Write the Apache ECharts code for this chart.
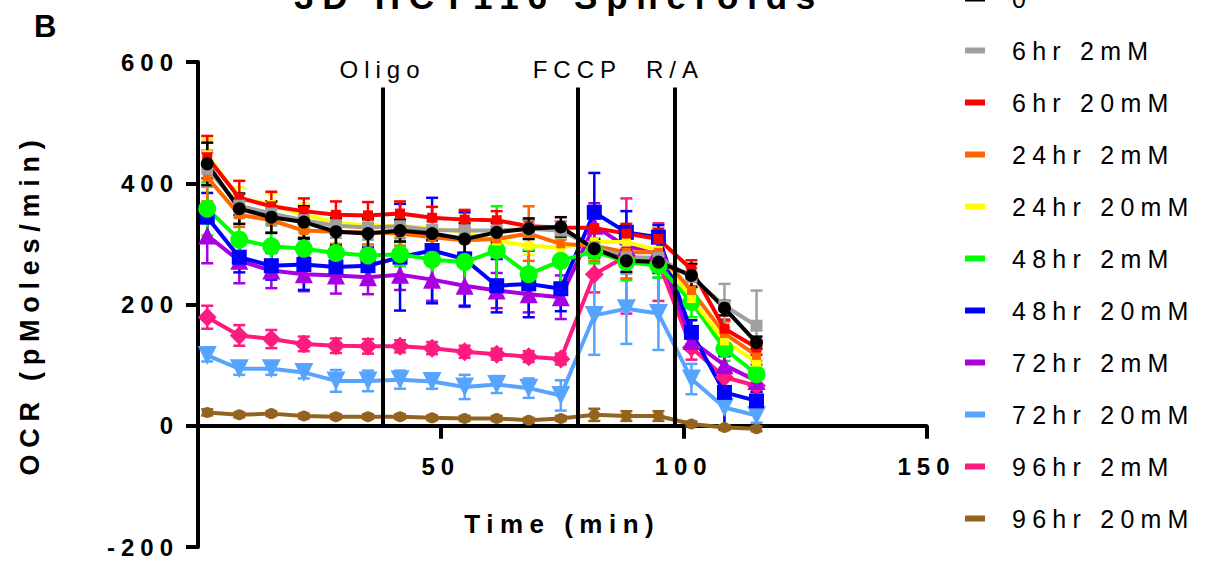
<!DOCTYPE html>
<html>
<head>
<meta charset="utf-8">
<script src="https://cdn.jsdelivr.net/npm/echarts@6/dist/echarts.min.js"></script>
<style>
  html, body { margin: 0; padding: 0; background: #fff; }
  #chart { width: 1222px; height: 564px; }
  /* Prism-style spaced lettering for every label */
  #chart text { letter-spacing: 0.25em; }
</style>
</head>
<body>
<div id="chart"></div>
<script>
// Measurement times (min)
const times = [1.9, 8.5, 15.1, 21.8, 28.4, 35.0, 41.6, 48.2, 54.9, 61.5, 68.1, 74.7, 81.6, 88.2, 94.8, 101.6, 108.4, 115.0];

// Injection times (min) and labels
const injectionNames = ['Oligo', 'FCCP', 'R/A'];
const injectionTimes = [38.0, 78.1, 98.2];
const injectionTop = 558;

// Treatment groups
const groupNames = ['0', '6hr 2mM', '6hr 20mM', '24hr 2mM', '24hr 20mM', '48hr 2mM', '48hr 20mM', '72hr 2mM', '72hr 20mM', '96hr 2mM', '96hr 20mM'];

// OCR means (pMoles/min)
const ocr0      = [432, 358, 344, 336, 320, 317, 322, 317, 308, 319, 325, 328, 292, 272, 270, 248, 194, 137];
const ocr6h2    = [424, 363, 350, 339, 330, 327, 329, 323, 322, 322, 325, 322, 294, 278, 277, 245, 198, 165];
const ocr6h20   = [443, 376, 362, 354, 348, 347, 350, 343, 340, 339, 329, 327, 326, 317, 308, 258, 160, 129];
const ocr24h2   = [410, 348, 339, 322, 320, 319, 317, 311, 306, 308, 317, 300, 297, 286, 286, 223, 152, 116];
const ocr24h20  = [447, 375, 365, 348, 335, 330, 330, 325, 320, 305, 297, 294, 303, 303, 289, 210, 140, 105];
const ocr48h2   = [358, 307, 296, 292, 285, 281, 283, 274, 270, 289, 250, 272, 288, 270, 264, 204, 127, 85];
const ocr48h20  = [344, 278, 264, 266, 262, 264, 278, 289, 275, 231, 234, 226, 352, 319, 311, 154, 55, 41];
const ocr72h2   = [314, 272, 256, 250, 248, 245, 249, 241, 231, 223, 217, 212, 330, 295, 290, 140, 100, 74];
const ocr72h20  = [116, 94, 94, 88, 74, 74, 76, 73, 64, 68, 62, 50, 182, 193, 185, 77, 30, 17];
const ocr96h2   = [179, 149, 143, 135, 132, 131, 131, 128, 122, 118, 114, 110, 250, 280, 270, 129, 80, 66];
const ocr96h20  = [22, 18, 20, 16, 15, 15, 15, 13, 12, 12, 9, 12, 18, 16, 16, 3, -3, -5];

// Error bar half-widths (pMoles/min)
const err0      = [35, 25, 26, 26, 23, 25, 18, 11, 26, 16, 17, 16, 15, 18, 18, 19, 12, 10];
const err6h2    = [30, 20, 20, 20, 20, 20, 20, 15, 20, 15, 15, 15, 15, 15, 15, 15, 36, 58];
const err6h20   = [35, 28, 24, 21, 22, 22, 20, 18, 16, 15, 10, 10, 35, 16, 17, 15, 15, 12];
const err24h2   = [40, 20, 20, 20, 20, 20, 20, 20, 20, 20, 45, 20, 25, 43, 20, 20, 20, 15];
const err24h20  = [25, 18, 18, 18, 18, 18, 18, 15, 15, 15, 15, 15, 15, 15, 15, 15, 15, 12];
const err48h2   = [44, 39, 37, 35, 30, 35, 20, 38, 40, 73, 40, 50, 20, 30, 20, 25, 20, 15];
const err48h20  = [40, 25, 23, 42, 25, 30, 88, 87, 77, 44, 55, 37, 65, 35, 20, 20, 60, 15];
const err72h2   = [46, 37, 29, 28, 30, 28, 25, 35, 35, 29, 30, 36, 37, 30, 20, 15, 15, 10];
const err72h20  = [10, 10, 10, 10, 18, 17, 15, 12, 20, 14, 16, 25, 65, 58, 60, 25, 30, 12];
const err96h2   = [19, 17, 15, 12, 12, 12, 10, 10, 10, 9, 9, 9, 30, 95, 64, 20, 15, 10];
const err96h20  = [5, 4, 4, 4, 4, 4, 4, 4, 4, 4, 4, 4, 10, 8, 8, 4, 4, 4];

const seriesValues = [ocr0, ocr6h2, ocr6h20, ocr24h2, ocr24h20, ocr48h2, ocr48h20, ocr72h2, ocr72h20, ocr96h2, ocr96h20];
const seriesErrors = [err0, err6h2, err6h20, err24h2, err24h20, err48h2, err48h20, err72h2, err72h20, err96h2, err96h20];

// Axis ticks
const xTicks = { min: 0, max: 150, interval: 50 };
const yTicks = { min: -200, max: 600, interval: 200 };

const FONT = '"Liberation Sans", Arial, sans-serif';

// Plot frame (px)
const GRID = { left: 198, top: 62, width: 728.5, height: 485 };
// Shift the x axis up so it sits on OCR = 0
const xAxisOffset = -GRID.height * (0 - yTicks.min) / (yTicks.max - yTicks.min);

// Per-group appearance
const looks = [
  { color: '#000000', symbol: 'circle',   size: 13, rotate: 0 },
  { color: '#A0A0A0', symbol: 'rect',     size: 12, rotate: 0 },
  { color: '#FF0000', symbol: 'rect',     size: 10, rotate: 0 },
  { color: '#FF6600', symbol: 'rect',     size: 9,  rotate: 0 },
  { color: '#FFFF00', symbol: 'rect',     size: 9,  rotate: 0 },
  { color: '#00FF00', symbol: 'circle',   size: 18, rotate: 0 },
  { color: '#0000FF', symbol: 'rect',     size: 15, rotate: 0 },
  { color: '#A800E0', symbol: 'triangle', size: 18, rotate: 0 },
  { color: '#57A4FF', symbol: 'triangle', size: 19, rotate: 180 },
  { color: '#FF1A80', symbol: 'diamond',  size: 19, rotate: 0 },
  { color: '#94631F', symbol: 'circle',   size: 11, rotate: 0 }
];

function errorBarRenderer(color) {
  return function (params, api) {
    const x = api.value(0);
    const lo = api.coord([x, api.value(1)]);
    const hi = api.coord([x, api.value(2)]);
    const w = 6;
    const style = { stroke: color, lineWidth: 2.5 };
    return {
      type: 'group',
      children: [
        { type: 'line', shape: { x1: lo[0], y1: lo[1], x2: hi[0], y2: hi[1] }, style: style },
        { type: 'line', shape: { x1: lo[0] - w, y1: lo[1], x2: lo[0] + w, y2: lo[1] }, style: style },
        { type: 'line', shape: { x1: hi[0] - w, y1: hi[1], x2: hi[0] + w, y2: hi[1] }, style: style }
      ]
    };
  };
}

// First group is drawn in front, so series are added back to front
const series = [];
for (let i = groupNames.length - 1; i >= 0; i--) {
  const vals = seriesValues[i];
  const errs = seriesErrors[i];
  const look = looks[i];
  series.push({
    id: 'err-' + i,
    type: 'custom',
    renderItem: errorBarRenderer(look.color),
    encode: { x: 0, y: [1, 2] },
    data: times.map((t, k) => [t, vals[k] - errs[k], vals[k] + errs[k]]),
    silent: true,
    animation: false
  });
  series.push({
    name: groupNames[i],
    type: 'line',
    data: times.map((t, k) => [t, vals[k]]),
    symbol: look.symbol,
    symbolSize: look.size,
    symbolRotate: look.rotate,
    showAllSymbol: true,
    lineStyle: { color: look.color, width: 4 },
    itemStyle: { color: look.color, borderWidth: 0 },
    emphasis: { disabled: true },
    animation: false
  });
}

// Injection markers
series.push({
  type: 'line',
  data: [],
  z: 5,
  animation: false,
  markLine: {
    silent: true,
    symbol: 'none',
    animation: false,
    lineStyle: { color: '#000', width: 4, type: 'solid' },
    label: {
      show: true, position: 'end', distance: 6, formatter: '{b}',
      color: '#000', fontSize: 24, fontFamily: FONT
    },
    emphasis: { disabled: true },
    data: injectionTimes.map((t, k) => [
      { coord: [t, 0], name: injectionNames[k] },
      { coord: [t, injectionTop] }
    ])
  }
});

const chart = echarts.init(document.getElementById('chart'), null, { renderer: 'svg' });
chart.setOption({
  animation: false,
  backgroundColor: '#fff',
  graphic: [
    {
      type: 'text', x: 559, y: 14,
      style: { text: '3D HCT116 Spheroids', font: 'bold 35px ' + FONT, fill: '#000',
               align: 'center', verticalAlign: 'bottom', textAlign: 'center', textVerticalAlign: 'bottom' }
    },
    {
      type: 'text', x: 34, y: 26,
      style: { text: 'B', font: 'bold 31px ' + FONT, fill: '#000',
               align: 'left', verticalAlign: 'middle', textAlign: 'left', textVerticalAlign: 'middle' }
    }
  ],
  legend: {
    orient: 'vertical',
    left: 965,
    top: -14,
    padding: 0,
    itemGap: 27,
    itemWidth: 42,
    itemHeight: 6,
    // short bar on the left, text begins after the full icon box
    icon: 'path://M0,0H20V6H0Z M41.95,0H42V0.05H41.95Z',
    selectedMode: false,
    textStyle: { fontSize: 25, color: '#000', fontFamily: FONT },
    data: groupNames
  },
  grid: { left: GRID.left, top: GRID.top, width: GRID.width, height: GRID.height, outerBoundsMode: 'none', containLabel: false },
  xAxis: {
    type: 'value',
    min: xTicks.min, max: xTicks.max, interval: xTicks.interval,
    offset: xAxisOffset,
    name: 'Time (min)',
    nameLocation: 'middle',
    nameGap: 85,
    nameTextStyle: { fontSize: 26, fontWeight: 'bold', color: '#000', fontFamily: FONT },
    axisLine: { onZero: false, lineStyle: { color: '#000', width: 4 } },
    axisTick: { show: true, length: 13, lineStyle: { color: '#000', width: 4 } },
    axisLabel: {
      margin: 29, fontSize: 24, fontWeight: 'bold', color: '#000', fontFamily: FONT,
      formatter: v => (v === 0 ? '' : String(v))
    },
    splitLine: { show: false }
  },
  yAxis: {
    type: 'value',
    min: yTicks.min, max: yTicks.max, interval: yTicks.interval,
    name: 'OCR (pMoles/min)',
    nameLocation: 'middle',
    nameGap: 155,
    nameTextStyle: { fontSize: 27, fontWeight: 'bold', color: '#000', fontFamily: FONT },
    axisLine: { show: true, onZero: false, lineStyle: { color: '#000', width: 4 } },
    axisTick: { show: true, length: 12, lineStyle: { color: '#000', width: 4 } },
    axisLabel: { margin: 19, fontSize: 24, fontWeight: 'bold', color: '#000', fontFamily: FONT },
    splitLine: { show: false }
  },
  series: series
});
</script>
</body>
</html>
